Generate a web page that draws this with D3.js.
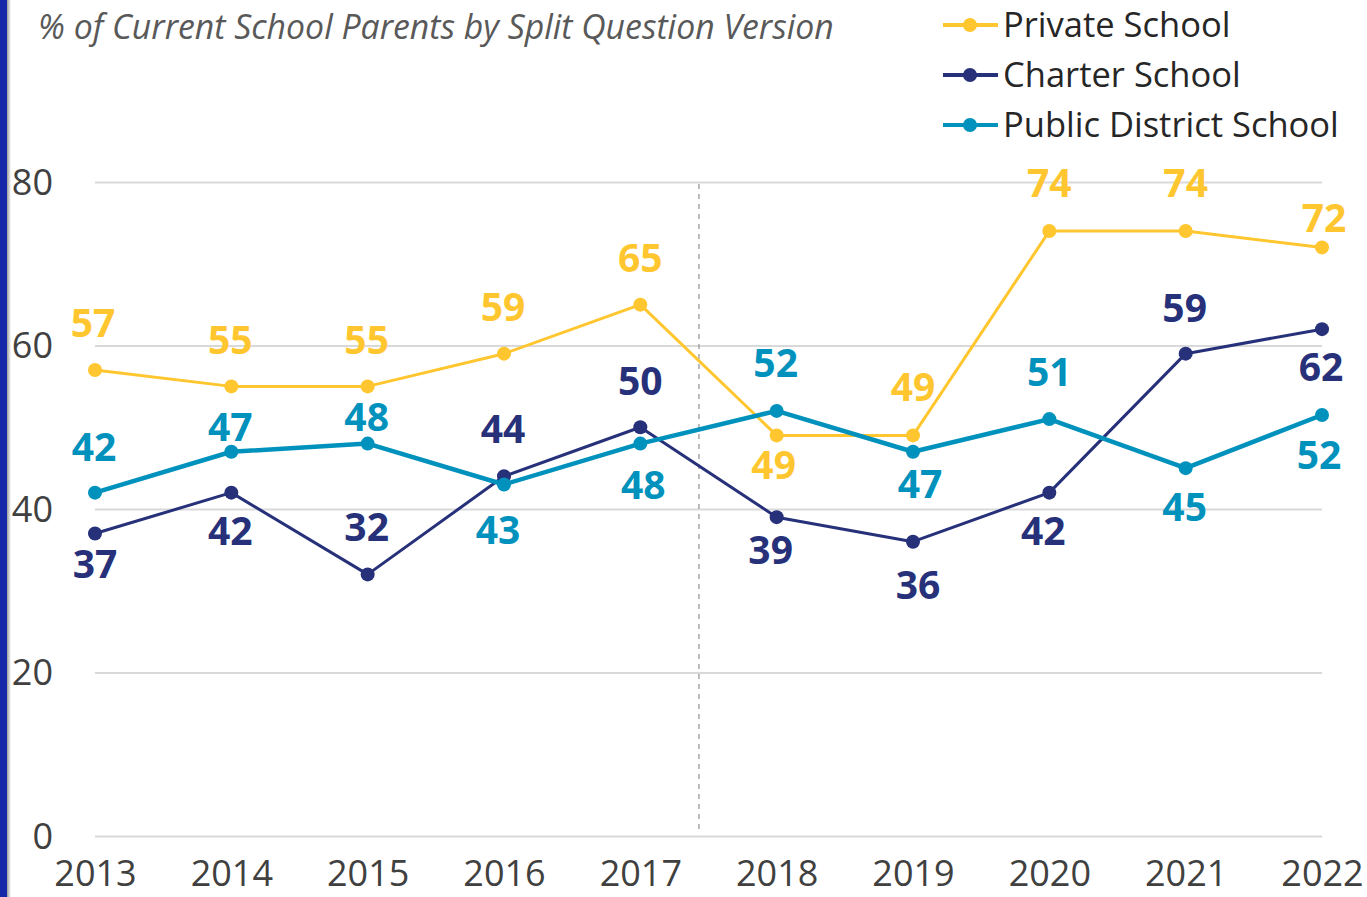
<!DOCTYPE html>
<html>
<head>
<meta charset="utf-8">
<script src="https://cdn.jsdelivr.net/npm/d3@7/dist/d3.min.js"></script>
<style>
  html, body { margin: 0; padding: 0; background: #fff; }
  svg { display: block; }
</style>
</head>
<body>
<svg id="chart" width="1367" height="897"></svg>
<script>
// ---- Data ----
const years = [2013, 2014, 2015, 2016, 2017, 2018, 2019, 2020, 2021, 2022];
const privateSchool = [57, 55, 55, 59, 65, 49, 49, 74, 74, 72];
const charterSchool = [37, 42, 32, 44, 50, 39, 36, 42, 59, 62];
const publicDistrictSchool = [42, 47, 48, 43, 48, 52, 47, 51, 45, 51.5];
const seriesNames = ["Private School", "Charter School", "Public District School"];
const yTicks = [0, 20, 40, 60, 80];
const titleText = "% of Current School Parents by Split Question Version";
const dividerYear = 2017.43;

// ---- Layout / style (not data) ----
const colors = ["#FFC62F", "#27317A", "#0092BC"];
const lineWidths = [3, 3, 4.5];
// label offsets (dx, dy) in px relative to each point
const labelOffsets = [
  [[-2,-47],[-1,-46],[-1,-46],[-1,-47],[0,-47],[-3,30],[0,-48],[0,-48],[0,-48],[2,-29]],
  [[0,30],[-1,38],[-1,-47],[-1,-47],[0,-46],[-6,33],[5,43],[-6,38],[-1,-46],[-1,38]],
  [[-1,-46],[-1,-25],[-1,-27],[-6,45],[3,41],[-1,-48],[7,32],[0,-47],[-1,39],[-3,40]]
];

const svg = d3.select("#chart");
const W = 1367, H = 897;
const plotLeft = 95, plotRight = 1322, plotTop = 182, plotBottom = 836;

const x = d3.scaleLinear().domain([years[0], years[years.length - 1]]).range([plotLeft, plotRight]);
const y = d3.scaleLinear().domain([0, 80]).range([plotBottom, plotTop]);

const font = "'Open Sans', 'Noto Sans', sans-serif";
const fmt = d3.format(".0f");

// left blue bar
const defs = svg.append("defs");
const grad = defs.append("linearGradient").attr("id", "shadow").attr("x1", "0").attr("x2", "1");
grad.append("stop").attr("offset", "0").attr("stop-color", "#9a9a9a");
grad.append("stop").attr("offset", "1").attr("stop-color", "#ffffff");
svg.append("rect").attr("x", 7).attr("y", 0).attr("width", 4).attr("height", H).attr("fill", "url(#shadow)");
svg.append("rect").attr("x", 0).attr("y", 0).attr("width", 7).attr("height", H).attr("fill", "#1428A8");

// Y axis with gridlines
const yAxis = d3.axisLeft(y).tickValues(yTicks).tickSize(-(plotRight - plotLeft)).tickPadding(42).tickFormat(d3.format("d"));
const gy = svg.append("g").attr("transform", `translate(${plotLeft},0)`).call(yAxis);
gy.select(".domain").remove();
gy.selectAll(".tick line").attr("stroke", "#d9d9d9").attr("stroke-width", 2);
gy.selectAll(".tick text").attr("font-family", font).attr("font-size", 36).attr("fill", "#404040").attr("dy", "0.34em");

// X axis
const xAxis = d3.axisBottom(x).tickValues(years).tickSize(0).tickFormat(d3.format("d"));
const gx = svg.append("g").attr("transform", `translate(0,${plotBottom})`).call(xAxis);
gx.select(".domain").remove();
gx.selectAll(".tick text").attr("font-family", font).attr("font-size", 36).attr("fill", "#404040")
  .attr("y", 37).attr("dy", "0.35em");

// divider
svg.append("line")
  .attr("x1", x(dividerYear)).attr("x2", x(dividerYear))
  .attr("y1", y(80) + 2).attr("y2", plotBottom - 3)
  .attr("stroke", "#a6a6a6").attr("stroke-width", 1.5).attr("stroke-dasharray", "5,5");

// series
const allSeries = [privateSchool, charterSchool, publicDistrictSchool];
const line = d3.line().x((d, i) => x(years[i])).y(d => y(d));

allSeries.forEach((vals, s) => {
  svg.append("path").datum(vals).attr("d", line).attr("fill", "none")
    .attr("stroke", colors[s]).attr("stroke-width", lineWidths[s]).attr("stroke-linejoin", "round");
});
allSeries.forEach((vals, s) => {
  svg.append("g").selectAll("circle").data(vals).join("circle")
    .attr("cx", (d, i) => x(years[i])).attr("cy", d => y(d)).attr("r", 7).attr("fill", colors[s]);
});
allSeries.forEach((vals, s) => {
  svg.append("g").selectAll("text").data(vals).join("text")
    .attr("x", (d, i) => x(years[i]) + labelOffsets[s][i][0])
    .attr("y", (d, i) => y(d) + labelOffsets[s][i][1])
    .attr("dy", "0.36em")
    .attr("text-anchor", "middle")
    .attr("font-family", font).attr("font-weight", 700).attr("font-size", 39)
    .attr("fill", colors[s]).text(d => fmt(d));
});

// title
svg.append("text").attr("x", 38).attr("y", 27).attr("dy", "0.35em")
  .attr("font-family", font).attr("font-style", "italic").attr("font-size", 33.8)
  .attr("fill", "#595959").text(titleText);

// legend
const lg = svg.append("g");
seriesNames.forEach((name, s) => {
  const cy = 25 + s * 50;
  lg.append("line").attr("x1", 943).attr("x2", 998).attr("y1", cy).attr("y2", cy)
    .attr("stroke", colors[s]).attr("stroke-width", 4);
  lg.append("circle").attr("cx", 970).attr("cy", cy).attr("r", 7).attr("fill", colors[s]);
  lg.append("text").attr("x", 1003).attr("y", cy).attr("dy", "0.35em")
    .attr("font-family", font).attr("font-size", 34.5).attr("fill", "#262626").text(name);
});
</script>
</body>
</html>
